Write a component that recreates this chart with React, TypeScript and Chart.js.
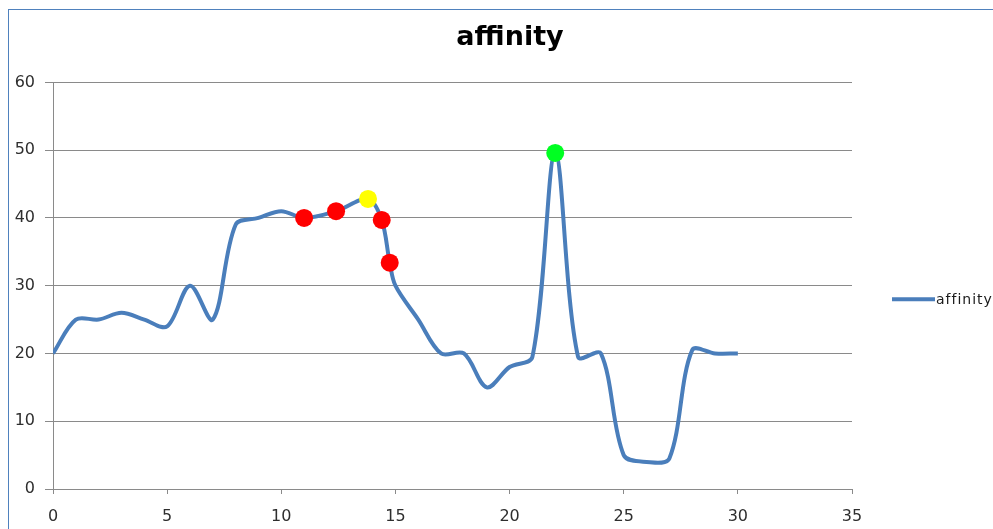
import React, { useEffect, useRef } from "react";
import { Chart, registerables } from "chart.js";

Chart.register(...registerables);

// Smoothed affinity curve
const lineX = [0, 1, 2, 3, 4, 5, 6, 7, 8, 9, 10, 11, 12.4, 13.8, 14.4, 14.75, 15, 16, 17, 18, 19, 20, 21, 22, 23, 24, 25, 26, 27, 28, 29, 30];
const lineY = [20, 25, 25, 26, 25, 24, 30, 25, 39, 40, 41, 40, 41, 42.8, 39.7, 33.4, 30, 25, 20, 20, 15, 18, 19.5, 49.6, 19.5, 20, 5, 4, 4.5, 20.5, 20, 20];

// Highlighted points on the curve
const markerX = [11, 12.4, 13.8, 14.4, 14.75, 22];
const markerY = [40, 41, 42.8, 39.7, 33.4, 49.6];
const markerColors = ["#ff0000", "#ff0000", "#ffff00", "#ff0000", "#ff0000", "#00ff22"];

const seriesName = "affinity";
const chartTitle = "affinity";
const xMin = 0, xMax = 35, xStep = 5;
const yMin = 0, yMax = 60, yStep = 10;

const FONT = "'DejaVu Sans', Verdana, sans-serif";
const LINE_BLUE = "#4a7ebb";
const GRID_GRAY = "#8a8a8a";

// Legend drawn in the space to the right of the plot: a short line sample and the series name
const sideLegend = {
  id: "sideLegend",
  afterDraw(chart: any) {
    const { ctx, chartArea } = chart;
    const ds = chart.data.datasets.find((d: any) => d.label === seriesName);
    if (!ds) return;
    const x0 = chartArea.right + 40;
    const y = (chartArea.top + chartArea.bottom) / 2 + 13.5;
    ctx.save();
    ctx.strokeStyle = ds.borderColor;
    ctx.lineWidth = 4;
    ctx.lineCap = "butt";
    ctx.beginPath();
    ctx.moveTo(x0, y);
    ctx.lineTo(x0 + 43, y);
    ctx.stroke();
    ctx.fillStyle = "#1a1a1a";
    ctx.font = `14px ${FONT}`;
    (ctx as any).letterSpacing = "1px";
    ctx.textBaseline = "middle";
    ctx.textAlign = "left";
    ctx.fillText(ds.label, x0 + 44, y + 1);
    ctx.restore();
  },
};

export default function App() {
  const canvasRef = useRef<HTMLCanvasElement | null>(null);

  useEffect(() => {
    const canvas = canvasRef.current;
    if (!canvas) return;
    const chart = new Chart(canvas, {
      type: "line",
      data: {
        datasets: [
          {
            label: seriesName,
            data: lineX.map((x, i) => ({ x, y: lineY[i] })),
            borderColor: LINE_BLUE,
            backgroundColor: LINE_BLUE,
            borderWidth: 4,
            pointRadius: 0,
            tension: 0.33,
            fill: false,
            order: 1,
          },
          {
            label: "markers",
            data: markerX.map((x, i) => ({ x, y: markerY[i] })),
            showLine: false,
            pointRadius: 9,
            pointBorderWidth: 0,
            pointBackgroundColor: markerColors,
            pointBorderColor: markerColors,
            order: 0,
          },
        ],
      },
      options: {
        responsive: false,
        animation: false,
        layout: { padding: 0 },
        scales: {
          x: {
            type: "linear",
            min: xMin,
            max: xMax,
            ticks: {
              stepSize: xStep,
              color: "#2e2e2e",
              font: { family: FONT, size: 16 },
              padding: 13,
            },
            grid: {
              drawOnChartArea: false,
              drawTicks: true,
              tickLength: 5,
              tickColor: GRID_GRAY,
              color: GRID_GRAY,
            },
            border: { color: GRID_GRAY, width: 1 },
            afterFit: (s: any) => {
              s.height = 40;
            },
          },
          y: {
            min: yMin,
            max: yMax,
            ticks: {
              stepSize: yStep,
              color: "#2e2e2e",
              font: { family: FONT, size: 16 },
              padding: 10,
            },
            grid: {
              color: GRID_GRAY,
              tickColor: GRID_GRAY,
              tickLength: 8,
              lineWidth: 1,
            },
            border: { color: GRID_GRAY, width: 1 },
            afterFit: (s: any) => {
              s.width = 44;
            },
          },
          // empty right-hand band that holds the legend
          legendBand: {
            type: "linear",
            position: "right",
            display: true,
            ticks: { display: false },
            grid: { display: false, drawTicks: false },
            border: { display: false },
            afterFit: (s: any) => {
              s.width = 159;
            },
          },
        },
        plugins: {
          legend: { display: false },
          tooltip: { enabled: false },
          title: {
            display: true,
            text: chartTitle,
            color: "#000000",
            font: { family: FONT, size: 27, weight: "bold" },
            padding: { top: 12, bottom: 28 },
          },
        },
      },
      plugins: [sideLegend],
    } as any);
    return () => chart.destroy();
  }, []);

  return (
    <div
      style={{
        position: "fixed",
        left: 0,
        top: 0,
        width: 993,
        height: 529,
        overflow: "hidden",
        background: "#ffffff",
      }}
    >
      <div
        style={{
          position: "absolute",
          left: 8,
          top: 9,
          width: 1002,
          height: 600,
          border: "1px solid #4f81bd",
          background: "#ffffff",
        }}
      >
        <canvas ref={canvasRef} width={1002} height={519} style={{ display: "block", width: 1002, height: 519 }} />
      </div>
    </div>
  );
}
